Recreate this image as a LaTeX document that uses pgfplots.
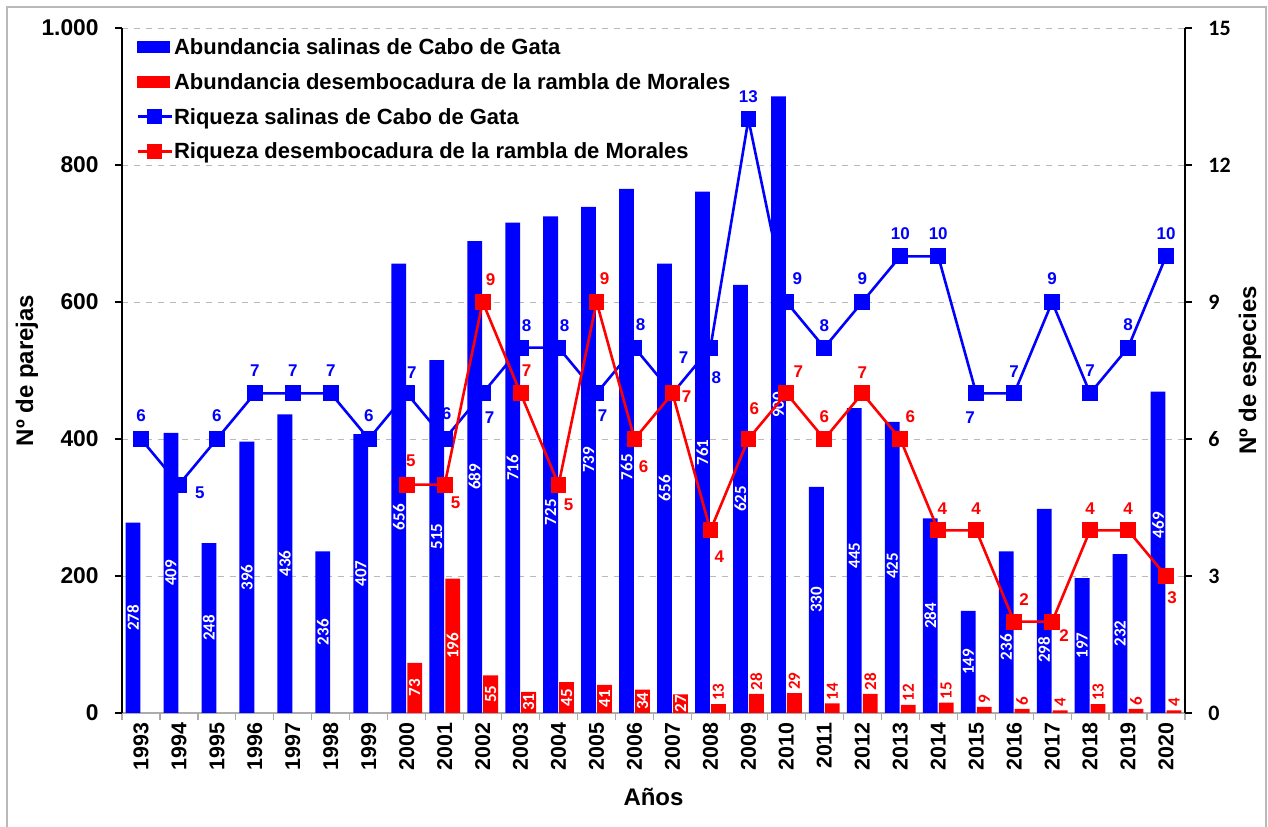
\documentclass[border=0pt]{standalone}
\usepackage{fontspec}
\setmainfont{Liberation Sans}
\newfontfamily\calibri{Carlito}
\usepackage{pgfplots}
\usepackage{pgfplotstable}
\pgfplotsset{compat=1.18}
\definecolor{myblue}{RGB}{0,0,255}
\definecolor{myred}{RGB}{255,0,0}

% blue bars: x, value, label height
\pgfplotstableread{
x b bl
0 278 139
1 409 204.5
2 248 124
3 396 198
4 436 218
5 236 118
6 407 203.5
7 656 286
8 515 257.5
9 689 344.5
10 716 358
11 725 293
12 739 369.5
13 765 359
14 656 328
15 761 380.5
16 625 312.5
17 900 450
18 330 165
19 445 230
20 425 215
21 284 142
22 149 74.5
23 236 96
24 298 92
25 197 98.5
26 232 116
27 469 274
}\bluetab

\pgfplotstableread{
x r
7 73
8 196
9 55
10 31
11 45
12 41
13 34
14 27
15 13
16 28
17 29
18 14
19 28
20 12
21 15
22 9
23 6
24 4
25 13
26 6
27 4
}\redtab

\pgfplotstableread{
x s dx dy
0 6 0 11.5
1 5 10.5 -4
2 6 0 11.5
3 7 0 11.5
4 7 0 11.5
5 7 0 11.5
6 6 0 11.5
7 7 2.5 10.5
8 6 1 12.5
9 7 3.5 -12
10 8 3 11
11 8 3 11
12 7 3 -11
13 8 3 11.5
14 7 5.5 18
15 8 3 -15
16 13 0 11.5
17 9 5.5 11.5
18 8 0 11
19 9 0 11.5
20 10 0 11.5
21 10 0 11.5
22 7 -3 -12
23 7 0 11
24 9 0 11.5
25 7 0 11.5
26 8 0 11.5
27 10 0 11.5
}\saltab

\pgfplotstableread{
x m dx dy
7 5 2 12
8 5 5.5 -9
9 9 4 11
10 7 3 11.5
11 5 5 -10
12 9 4 11.5
13 6 4.5 -14
14 7 7 -1.5
15 4 4.5 -13
16 6 3 15
17 7 6 11
18 6 0 11
19 7 0 10.5
20 6 5 11
21 4 2 11
22 4 0 11
23 2 5 11
24 2 6 -7
25 4 0 11
26 4 0 11
27 3 3 -11
}\mortab

\begin{document}
\begin{tikzpicture}
\begin{axis}[
  name=main,
  scale only axis, width=531.5pt, height=342.5pt,
  xmin=-0.5, xmax=27.5, ymin=0, ymax=1000,
  clip=false,
  axis x line*=bottom, axis y line*=left,
  x axis line style={gray!65, line width=0.6pt, -},
  y axis line style={black, line width=1.3pt, -},
  xtick={-0.5,0.5,...,27.5},
  x tick label as interval,
  xticklabels={1993,1994,1995,1996,1997,1998,1999,2000,2001,2002,2003,2004,2005,2006,2007,2008,2009,2010,2011,2012,2013,2014,2015,2016,2017,2018,2019,2020},
  x tick style={gray!65, line width=0.6pt},
  ytick={0,200,400,600,800,1000},
  yticklabels={0,200,400,600,800,1.000},
  y tick style={black, line width=1.3pt},
  tick align=outside, major tick length=3.5pt,
  ymajorgrids, grid style={dashed, gray!55, line width=0.4pt},
  /pgf/number format/assume math mode=true,
  xticklabel style={font=\bfseries\fontsize{10.7}{12}\selectfont, rotate=90, anchor=east, inner sep=1pt},
  yticklabel style={font=\bfseries\fontsize{11.4}{13}\selectfont, anchor=east, inner sep=1pt, xshift=-7pt},
  every axis y label/.style={at={(axis description cs:-0.0895,0.5)}, rotate=90, anchor=center},
  ylabel={Nº de parejas},
  every axis x label/.style={at={(axis description cs:0.5,-0.1226)}, anchor=center},
  xlabel={Años},
  label style={font=\bfseries\fontsize{12}{14}\selectfont},
]
\addplot[ybar, bar width=0.39, bar shift=-0.21, fill=myblue, draw=none] table[x=x, y=b]{\bluetab};
\addplot[ybar, bar width=0.39, bar shift=0.21, fill=myred, draw=none] table[x=x, y=r]{\redtab};
% labels of the blue bars
\addplot[draw=none, mark=none, nodes near coords, point meta=explicit,
  nodes near coords style={font=\calibri\bfseries\fontsize{8.5}{10}\selectfont, text=white, rotate=90, anchor=center, inner sep=0pt}]
  table[x expr=\thisrow{x}-0.21, y=bl, meta=b]{\bluetab};
% labels inside the red bars
\addplot[draw=none, mark=none, nodes near coords, point meta=explicit, restrict x to domain=6:14.5,
  nodes near coords style={font=\calibri\bfseries\fontsize{8.5}{10}\selectfont, text=white, rotate=90, anchor=center, inner sep=0pt}]
  table[x expr=\thisrow{x}+0.21, y expr=\thisrow{r}/2, meta=r]{\redtab};
% labels above the red bars
\addplot[draw=none, mark=none, nodes near coords, point meta=explicit, restrict x to domain=14.5:28,
  nodes near coords style={font=\calibri\bfseries\fontsize{8.5}{10}\selectfont, text=myred, rotate=90, anchor=west, inner sep=1.5pt}]
  table[x expr=\thisrow{x}+0.21, y=r, meta=r]{\redtab};
\end{axis}

\begin{axis}[
  scale only axis, width=531.5pt, height=342.5pt,
  xmin=-0.5, xmax=27.5, ymin=0, ymax=15,
  clip=false,
  axis x line=none, axis y line*=right,
  y axis line style={black, line width=1.3pt, -},
  ytick={0,3,6,9,12,15},
  y tick style={black, line width=1.3pt},
  tick align=outside, major tick length=3.5pt,
  /pgf/number format/assume math mode=true,
  yticklabel style={font=\calibri\bfseries\fontsize{11}{13}\selectfont, anchor=west, inner sep=1pt, xshift=7pt},
  every axis y label/.style={at={(axis description cs:1.0611,0.5)}, rotate=90, anchor=center},
  ylabel={Nº de especies},
  label style={font=\bfseries\fontsize{12}{14}\selectfont},
  legend style={at={(axis description cs:0,1)}, anchor=north west, xshift=7pt, yshift=-4.75pt,
    draw=none, fill=none, inner sep=0pt, row sep=7.85pt,
    font=\bfseries\fontsize{11}{13}\selectfont,
    nodes={inner sep=0.5pt, text height=8pt, text depth=0.5pt}},
  legend cell align=left,
]
\addlegendimage{legend image code/.code={\fill[myblue] (0pt,-2.75pt) rectangle (16pt,2.75pt);}}
\addlegendentry{Abundancia salinas de Cabo de Gata}
\addlegendimage{legend image code/.code={\fill[myred] (0pt,-2.75pt) rectangle (16pt,2.75pt);}}
\addlegendentry{Abundancia desembocadura de la rambla de Morales}
\addplot[myblue, line width=1.3pt, mark=square*, mark size=3.3pt, mark options={solid},
  legend image code/.code={\draw[myblue, line width=1.3pt] (0pt,0pt) -- (17pt,0pt); \fill[myblue] (5.5pt,-3pt) rectangle (11.5pt,3pt);}]
  table[x=x, y=s]{\saltab};
\addlegendentry{Riqueza salinas de Cabo de Gata}
\addplot[myred, line width=1.3pt, mark=square*, mark size=3.3pt, mark options={solid},
  legend image code/.code={\draw[myred, line width=1.3pt] (0pt,0pt) -- (17pt,0pt); \fill[myred] (5.5pt,-3pt) rectangle (11.5pt,3pt);}]
  table[x=x, y=m]{\mortab};
\addlegendentry{Riqueza desembocadura de la rambla de Morales}
% richness labels
\addplot[forget plot, draw=none, mark=none, nodes near coords, point meta=explicit,
  visualization depends on={\thisrow{dx}\as\ldx},
  visualization depends on={\thisrow{dy}\as\ldy},
  nodes near coords style={font=\bfseries\fontsize{8.5}{10}\selectfont, text=myblue, anchor=center, inner sep=0pt, xshift=\ldx pt, yshift=\ldy pt}]
  table[x=x, y=s, meta=s]{\saltab};
\addplot[forget plot, draw=none, mark=none, nodes near coords, point meta=explicit,
  visualization depends on={\thisrow{dx}\as\ldx},
  visualization depends on={\thisrow{dy}\as\ldy},
  nodes near coords style={font=\bfseries\fontsize{8.5}{10}\selectfont, text=myred, anchor=center, inner sep=0pt, xshift=\ldx pt, yshift=\ldy pt}]
  table[x=x, y=m, meta=m]{\mortab};
\end{axis}
\draw[gray!55, line width=0.6pt] ([shift={(-57.5pt,-57pt)}]main.south west) -- ([shift={(-57.5pt,10.5pt)}]main.north west) -- ([shift={(40.5pt,10.5pt)}]main.north east) -- ([shift={(40.5pt,-57pt)}]main.south east);
\pgfresetboundingbox
\path ([shift={(-61pt,-57pt)}]main.south west) rectangle ([shift={(41.5pt,14pt)}]main.north east);
\end{tikzpicture}
\end{document}
